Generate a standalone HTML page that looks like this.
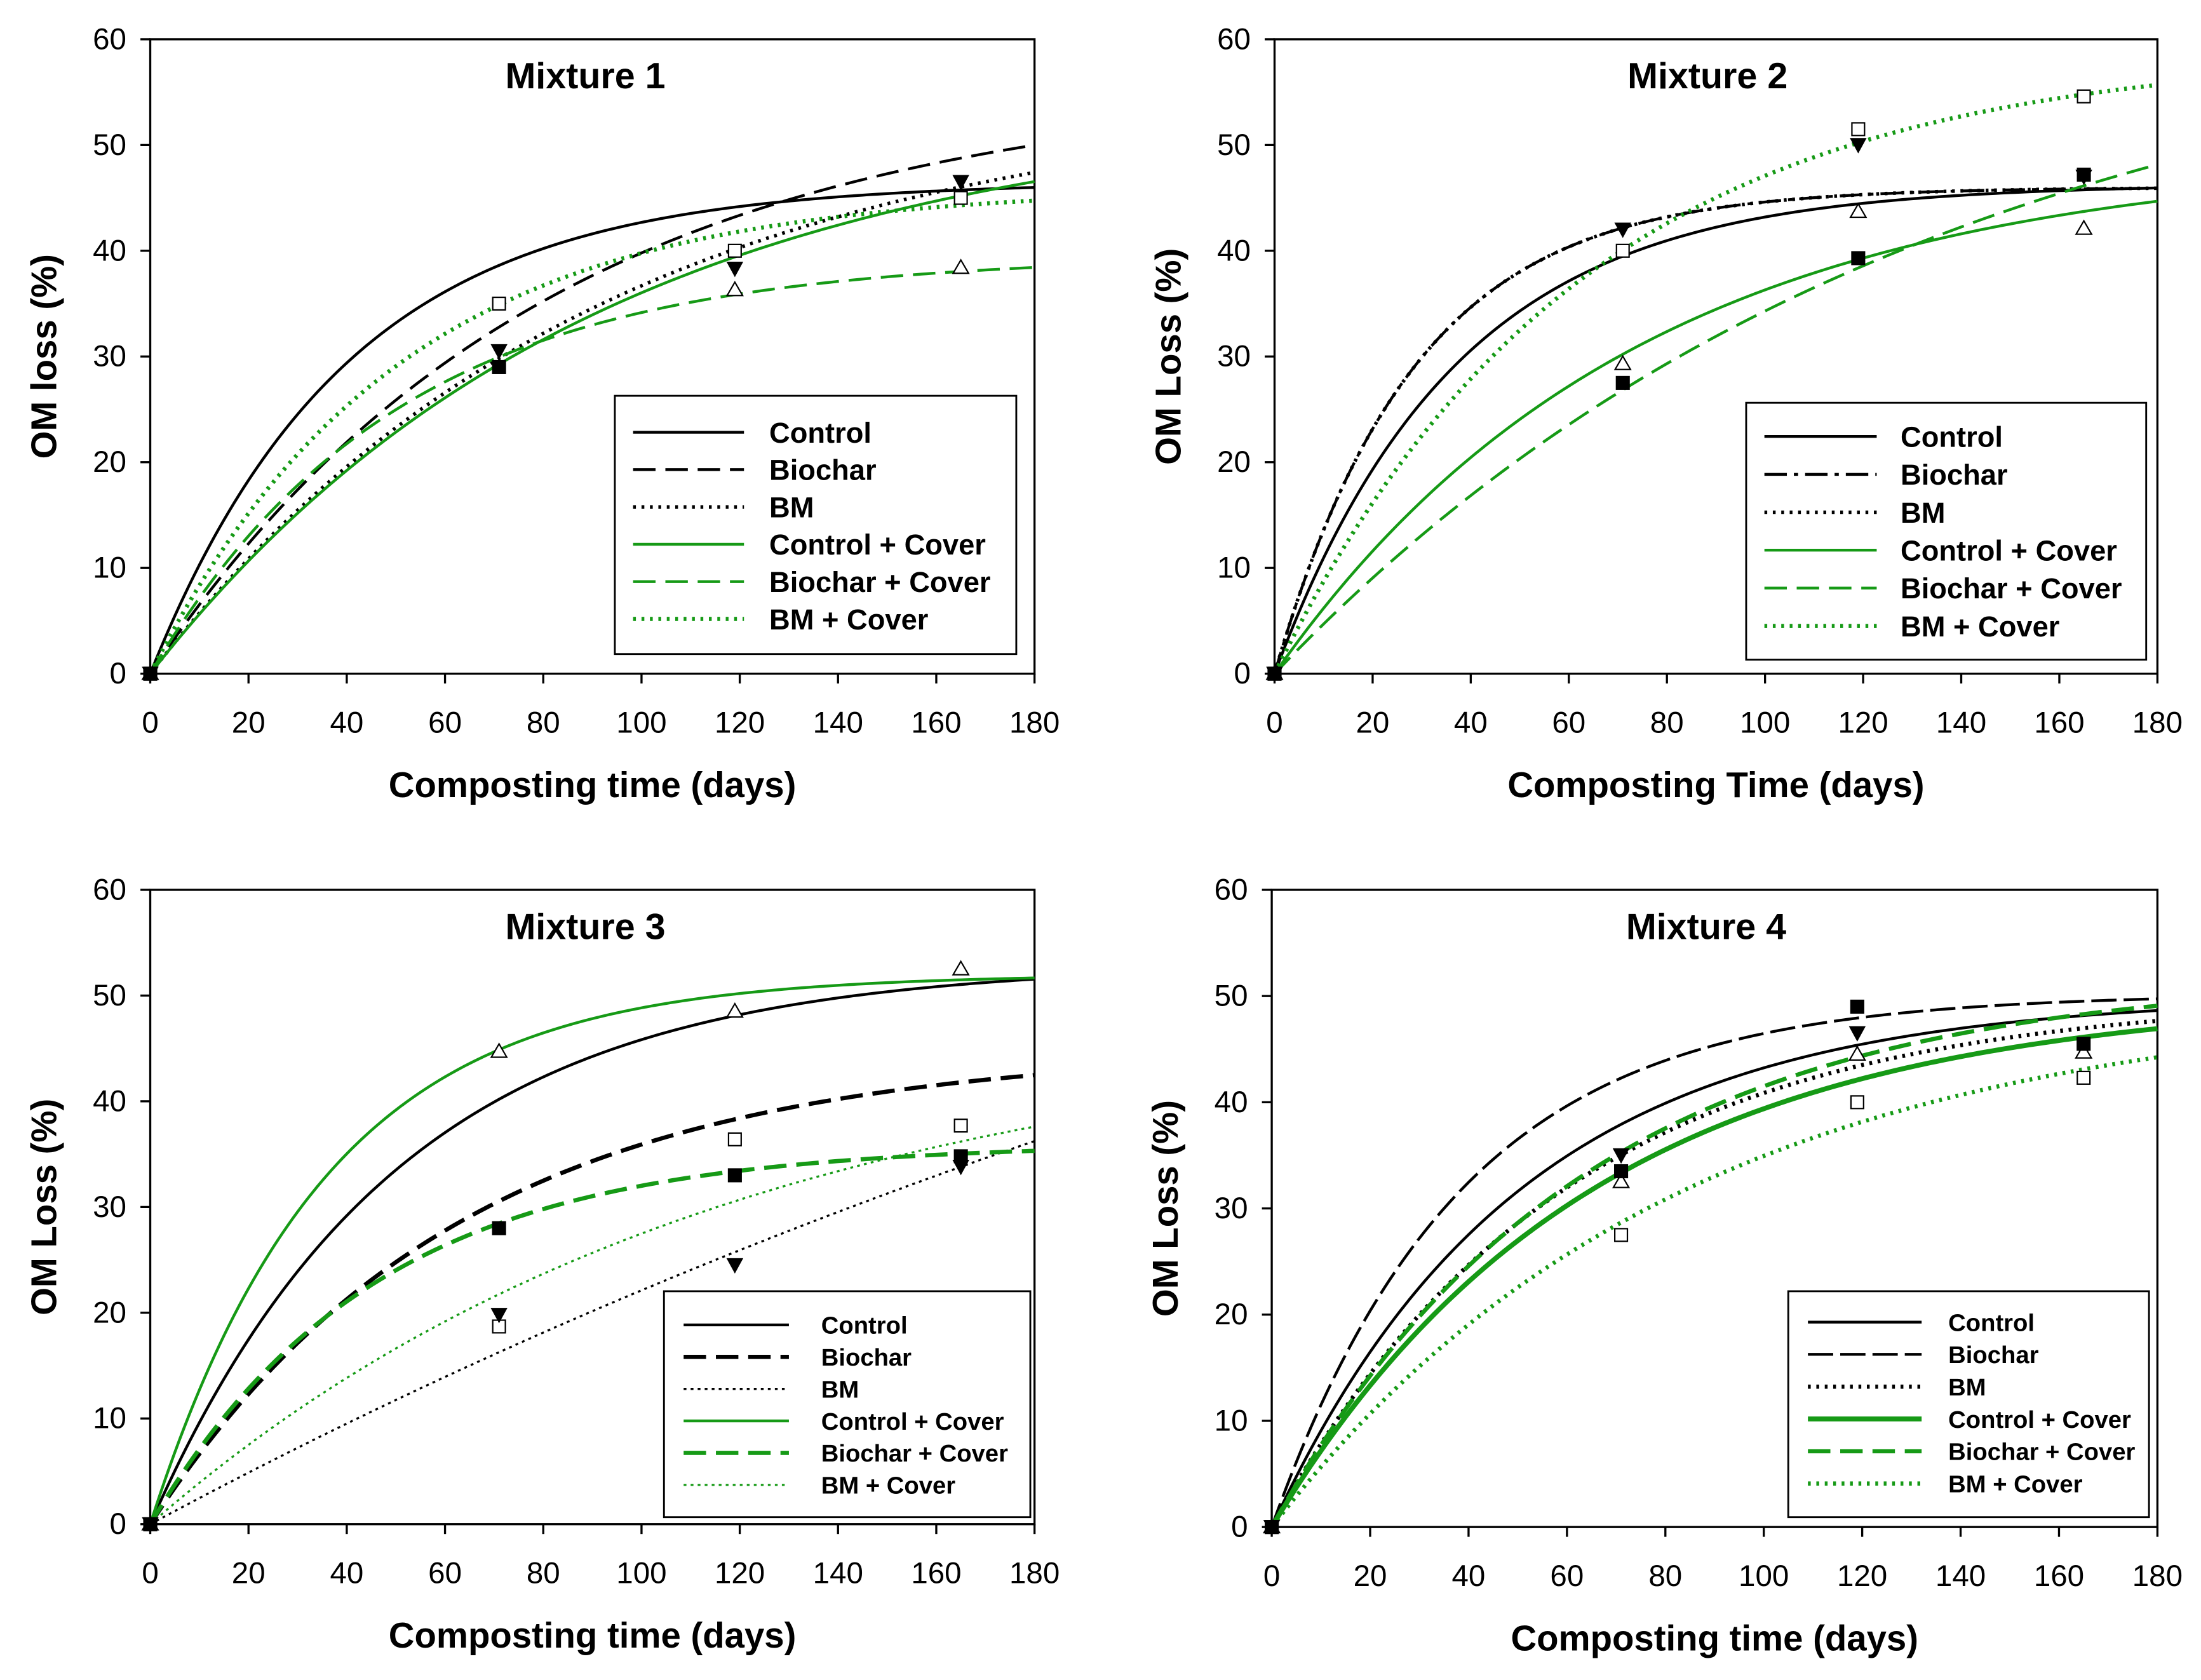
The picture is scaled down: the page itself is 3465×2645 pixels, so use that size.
<!DOCTYPE html>
<html><head><meta charset="utf-8"><style>
html,body{margin:0;padding:0;background:#fff}
svg{display:block}
text{font-family:"Liberation Sans",Arial,sans-serif}
</style></head><body>
<svg id="fig" xmlns="http://www.w3.org/2000/svg" width="3465" height="2645" viewBox="0 0 1568 1197"></svg>
<script>
// ---- data ----
const seriesNames = ["Control","Biochar","BM","Control + Cover","Biochar + Cover","BM + Cover"];
// fitted model parameters OM = A(1-exp(-k t)) per panel, per series
const p1A = [46.5,56,55,54,39.5,46];   const p1k = [0.025,0.0124,0.011,0.011,0.02,0.02];
const p2A = [46.3,46,46,49,65,59];     const p2k = [0.027,0.035,0.035,0.0135,0.0075,0.016];
const p3A = [53,45,100,52,36,48];      const p3k = [0.02,0.016,0.0025,0.028,0.022,0.0085];
const p4A = [50,50.2,50,50,52,50];     const p4k = [0.02,0.026,0.017,0.0155,0.016,0.012];
// measured points
const days = [0,71,119,165];
const p1Open = [0,35,40,45];     const p1Tri = [0,null,36.3,38.4]; const p1Down=[0,30.5,38.3,46.5]; const p1Fill=[0,29,null,null];
const p2Open = [0,40,51.5,54.6]; const p2Tri = [0,29.3,43.7,42.1]; const p2Down=[0,42,50,47];     const p2Fill=[0,27.5,39.3,47.2];
const p3Open = [0,18.7,36.4,37.7]; const p3Tri=[0,44.7,48.5,52.5]; const p3Down=[0,19.8,24.5,33.8]; const p3Fill=[0,28,33,34.8];
const p4Open = [0,27.5,40,42.3]; const p4Tri = [0,32.5,44.5,44.7]; const p4Down=[0,35,46.5,null];   const p4Fill=[0,33.5,49,45.5];
const xTicks = [0,20,40,60,80,100,120,140,160,180];
const yTicks = [0,10,20,30,40,50,60];

const G="#169a16";
const NS="http://www.w3.org/2000/svg";
const svg=document.getElementById('fig');
function el(tag,attrs,parent){const e=document.createElementNS(NS,tag);for(const k in attrs)e.setAttribute(k,attrs[k]);(parent||svg).appendChild(e);return e;}

const panels=[
 {x0:107,x1:737,y0:480,y1:28,title:"Mixture 1",yl:"OM loss (%)",xl:"Composting time (days)",A:p1A,k:p1k,pts:[p1Open,p1Tri,p1Down,p1Fill],
  styles:[["#000",2,""],["#000",2,"16,7"],["#000",2.5,"2,4"],[G,2,""],[G,2,"16,7"],[G,3,"2,4"]],
  leg:{x:438,y:282,w:286,h:184,y0:308,dy:26.6,l0:451,l1:530,tx:548,fs:20.5}},
 {x0:908,x1:1537,y0:480,y1:28,title:"Mixture 2",yl:"OM Loss (%)",xl:"Composting Time (days)",A:p2A,k:p2k,pts:[p2Open,p2Tri,p2Down,p2Fill],
  styles:[["#000",2,""],["#000",2,"16,5,3,5"],["#000",2.5,"2,4"],[G,2,""],[G,2,"16,7"],[G,3,"2,4"]],
  leg:{x:1244,y:287,w:285,h:183,y0:311,dy:27,l0:1257,l1:1337,tx:1354,fs:20.5}},
 {x0:107,x1:737,y0:1086,y1:634,title:"Mixture 3",yl:"OM Loss (%)",xl:"Composting time (days)",A:p3A,k:p3k,pts:[p3Open,p3Tri,p3Down,p3Fill],
  styles:[["#000",2,""],["#000",3,"16,7"],["#000",1.5,"2,3"],[G,2,""],[G,3,"16,7"],[G,1.5,"2,3"]],
  leg:{x:473,y:920,w:261,h:161,y0:944,dy:22.8,l0:487,l1:562,tx:585,fs:17.3}},
 {x0:906,x1:1537,y0:1088,y1:634,title:"Mixture 4",yl:"OM Loss (%)",xl:"Composting time (days)",A:p4A,k:p4k,pts:[p4Open,p4Tri,p4Down,p4Fill],
  styles:[["#000",2,""],["#000",2,"18,5"],["#000",3,"2,4"],[G,3.5,""],[G,3,"16,7"],[G,3,"2,4"]],
  leg:{x:1274,y:920,w:257,h:161,y0:942,dy:23,l0:1288,l1:1369,tx:1388,fs:17.3}}
];

panels.forEach((P,pi)=>{
  const g=el('g',{});
  
  
  const sx=v=>P.x0+(P.x1-P.x0)*v/180;
  const sy=v=>P.y0+(P.y1-P.y0)*v/60;
  const fr=el('rect',{x:P.x0,y:P.y1,width:P.x1-P.x0,height:P.y0-P.y1,fill:"none",stroke:"#000","stroke-width":1.5},g);
  
  
  xTicks.forEach(t=>{
    el('line',{x1:sx(t),x2:sx(t),y1:P.y0,y2:P.y0+7,stroke:"#000","stroke-width":1.5},g);
    const tx=el('text',{x:sx(t),y:P.y0+42,"text-anchor":"middle","font-size":21.5},g);tx.textContent=t;
    
    
  });
  yTicks.forEach(t=>{
    el('line',{x1:P.x0-7,x2:P.x0,y1:sy(t),y2:sy(t),stroke:"#000","stroke-width":1.5},g);
    const tx=el('text',{x:P.x0-17,y:sy(t)+7,"text-anchor":"end","font-size":21.5},g);tx.textContent=t;
    
    
  });
  const ti=el('text',{x:(P.x0+P.x1)/2+(pi%2?-6:-5),y:P.y1+35,"text-anchor":"middle","font-size":26,"font-weight":"bold"},g);ti.textContent=P.title;
  
  
  const xl=el('text',{x:(P.x0+P.x1)/2,y:P.y0+88,"text-anchor":"middle","font-size":25.5,"font-weight":"bold"},g);xl.textContent=P.xl;
  
  
  const cy=(P.y0+P.y1)/2, lx=P.x0-67;
  const yl=el('text',{x:lx,y:cy,"text-anchor":"middle","font-size":25.5,"font-weight":"bold",transform:`rotate(-90 ${lx} ${cy})`},g);yl.textContent=P.yl;
  
  
  P.styles.forEach((s,i)=>{
    let d="";
    for(let t=0;t<=180;t+=1){const v=P.A[i]*(1-Math.exp(-P.k[i]*t));d+=(t?"L":"M")+sx(t).toFixed(2)+","+sy(v).toFixed(2);}
    const c=el('path',{d:d,fill:"none",stroke:s[0],"stroke-width":s[1],"stroke-dasharray":s[2]},g);
    
    
  });
  const [op,tr,dn,fl]=P.pts;
  days.forEach((dday,j)=>{
    const X=sx(dday);
    if(op[j]!=null){const m=el('rect',{x:X-4.5,y:sy(op[j])-4.5,width:9,height:9,fill:"#fff",stroke:"#000","stroke-width":1},g);
      }
    if(tr[j]!=null){const Y=sy(tr[j]);const m=el('path',{d:`M${X},${Y-5.5}L${X+5.5},${Y+4}L${X-5.5},${Y+4}Z`,fill:"#fff",stroke:"#000","stroke-width":1},g);
      }
    if(dn[j]!=null){const Y=sy(dn[j]);const m=el('path',{d:`M${X-6},${Y-5}L${X+6},${Y-5}L${X},${Y+6}Z`,fill:"#000"},g);
      }
    if(fl[j]!=null){const m=el('rect',{x:X-5,y:sy(fl[j])-5,width:10,height:10,fill:"#000"},g);
      }
  });
  const L=P.leg;
  const lg=el('g',{},g);
  
  
  el('rect',{x:L.x,y:L.y,width:L.w,height:L.h,fill:"#fff",stroke:"#000","stroke-width":1.3},lg);
  P.styles.forEach((s,i)=>{
    const y=L.y0+L.dy*i;
    const e=el('g',{},lg);
    
    
    el('line',{x1:L.l0,x2:L.l1,y1:y,y2:y,stroke:s[0],"stroke-width":s[1],"stroke-dasharray":s[2]},e);
    const t=el('text',{x:L.tx,y:y+L.fs*0.36,"font-size":L.fs,"font-weight":"bold"},e);t.textContent=seriesNames[i];
  });
});
</script>
</body></html>
